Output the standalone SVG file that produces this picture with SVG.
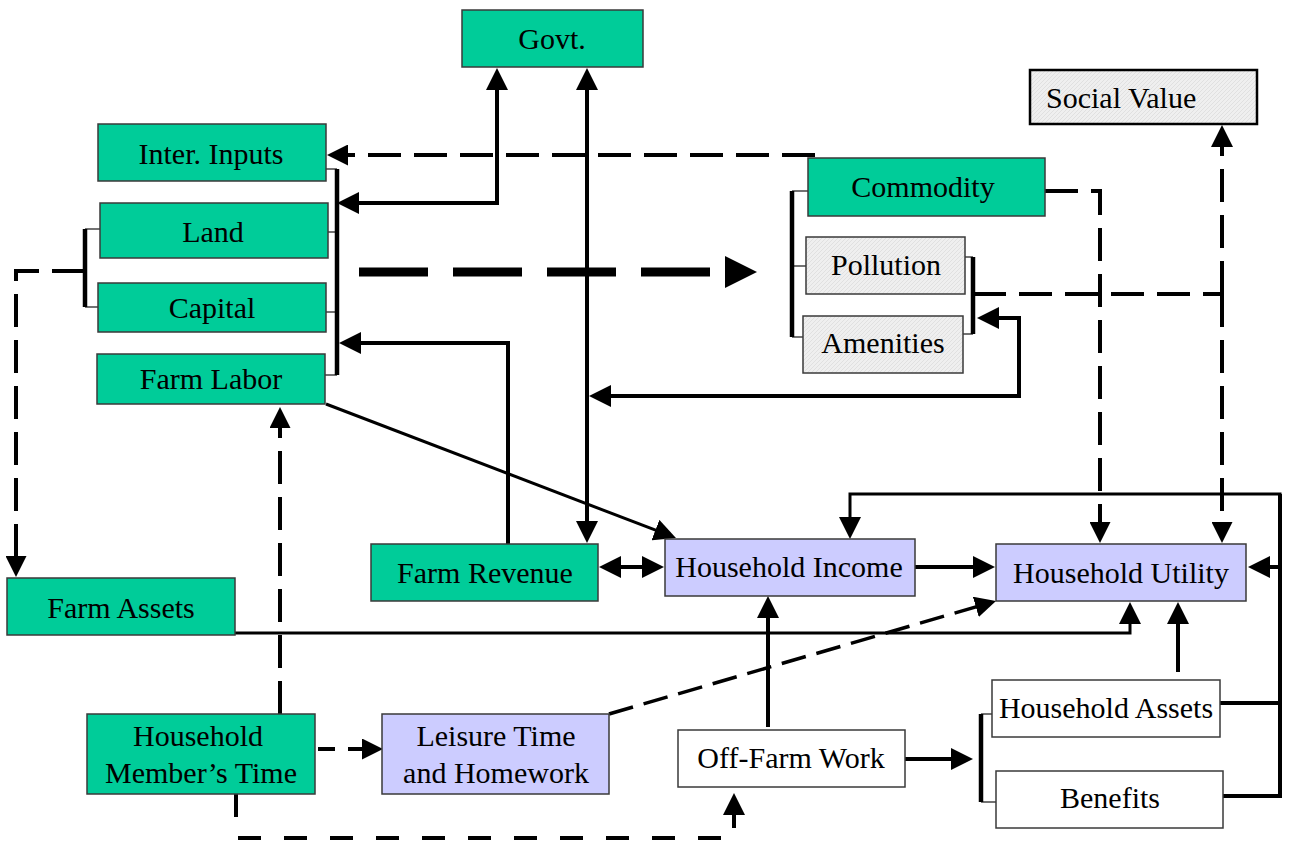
<svg xmlns="http://www.w3.org/2000/svg" width="1292" height="843" viewBox="0 0 1292 843">
<defs>
<pattern id="hatch" width="4" height="4" patternUnits="userSpaceOnUse">
<rect width="4" height="4" fill="#efefef"/>
<path d="M0,4 L4,0" stroke="#dcdcdc" stroke-width="0.8"/>
</pattern>
<marker id="ah" viewBox="0 0 22 22" refX="17" refY="11" markerWidth="22" markerHeight="22" markerUnits="userSpaceOnUse" orient="auto-start-reverse">
<path d="M0,0 L22,11 L0,22 z" fill="#000"/>
</marker>
<marker id="ahs" viewBox="0 0 21 21" refX="16" refY="10.5" markerWidth="21" markerHeight="21" markerUnits="userSpaceOnUse" orient="auto-start-reverse">
<path d="M0,0 L21,10.5 L0,21 z" fill="#000"/>
</marker>
</defs>
<style>
.box{stroke:#3a3a3a;stroke-width:1.5}
.g{fill:#00cc99}
.p{fill:#ccccff}
.w{fill:#ffffff}
.h{fill:url(#hatch)}
text{font-family:"Liberation Serif","Times New Roman",serif;font-size:30px;fill:#000;text-anchor:middle}
.s{fill:none;stroke:#000;stroke-width:4}
.t{fill:none;stroke:#000;stroke-width:3}
.d{fill:none;stroke:#000;stroke-width:4;stroke-dasharray:33 13}
.stub{fill:none;stroke:#444;stroke-width:1.5}
.br{fill:none;stroke:#000;stroke-width:4.5}
</style>
<rect width="1292" height="843" fill="#fff"/>

<g id="connectors">
<!-- brackets -->
<path class="stub" d="M326,169 H337 M328,232 H337 M326,312 H337 M325,375 H337"/>
<path class="br" d="M337,169 V375"/>
<path class="stub" d="M85,229 H100 M85,307 H98"/>
<path class="br" d="M85,229 V307"/>
<path class="stub" d="M792,191 H808 M792,266 H806 M792,337 H803"/>
<path class="br" d="M792,191 V337"/>
<path class="stub" d="M965,257 H973 M963,334 H973"/>
<path class="br" d="M973,257 V334"/>
<path class="stub" d="M981,714 H992 M981,802 H996"/>
<path class="br" d="M981,714 V802"/>

<!-- Commodity -> Inter. Inputs -->
<path class="d" d="M815,155 H332" marker-end="url(#ahs)"/>
<!-- Govt <-> inputs -->
<path class="s" d="M497,73 V203 H342" marker-start="url(#ah)" marker-end="url(#ah)"/>
<!-- Govt <-> Farm Revenue -->
<path class="s" d="M587,73 V538" marker-start="url(#ah)" marker-end="url(#ah)"/>
<!-- Amenities <-> Govt line -->
<path class="s" d="M982,318 H1019 V396 H594" marker-start="url(#ah)" marker-end="url(#ah)"/>
<!-- Farm Revenue -> inputs -->
<path class="s" d="M508,544 V343 H344" marker-end="url(#ah)"/>
<!-- big dashed arrow -->
<path fill="none" stroke="#000" stroke-width="9" stroke-dasharray="69 25" d="M359,272 H710"/>
<polygon points="725,256 757,272 725,288" fill="#000"/>
<!-- Farm Labor -> HH Income -->
<path class="t" d="M326,404 L671.3,536.2" marker-end="url(#ah)"/>
<!-- Farm Revenue <-> HH Income -->
<path class="s" d="M604,567 H659" marker-start="url(#ah)" marker-end="url(#ah)"/>
<!-- HH Income -> HH Utility -->
<path class="s" d="M915,567 H990" marker-end="url(#ah)"/>
<!-- Off-Farm -> HH Income -->
<path class="s" d="M768,727 V601" marker-end="url(#ah)"/>
<!-- Farm Assets -> HH Utility -->
<path class="t" d="M235,633 H1130 V607" marker-end="url(#ah)"/>
<!-- Leisure -> HH Utility -->
<path fill="none" stroke="#000" stroke-width="3.5" stroke-dasharray="25 11" d="M609,714 L991.2,602.4" marker-end="url(#ahs)"/>
<!-- HH Assets -> HH Utility -->
<path class="s" d="M1178,672 V607" marker-end="url(#ah)"/>
<!-- right loop -->
<path class="s" d="M1223,796 H1280 V494" />
<path class="t" d="M1281.5,494 H850 V534" marker-end="url(#ah)"/>
<path class="s" d="M1220,703 H1280"/>
<path class="s" d="M1280,567 H1253" marker-end="url(#ah)"/>
<!-- Off-Farm -> Assets/Benefits -->
<path class="s" d="M905,759 H968" marker-end="url(#ah)"/>
<!-- Pollution/Amenities -> Social Value / Utility -->
<path class="d" d="M973,294 H1222"/>
<path class="d" d="M1222,294 V130" marker-end="url(#ah)"/>
<path class="d" d="M1222,294 V538" marker-end="url(#ahs)"/>
<!-- Commodity -> HH Utility -->
<path class="d" d="M1045,191 H1100 V538" marker-end="url(#ahs)"/>
<!-- Land/Capital -> Farm Assets -->
<path class="d" d="M85,271 H16 V572" marker-end="url(#ahs)"/>
<!-- Member's Time -> Farm Labor -->
<path class="d" d="M280,714 V412" marker-end="url(#ahs)"/>
<!-- Member's Time -> Leisure -->
<path fill="none" stroke="#000" stroke-width="4" stroke-dasharray="17 13" d="M318,749 H378" marker-end="url(#ahs)"/>
<!-- Member's Time -> Off-Farm -->
<path fill="none" stroke="#000" stroke-width="4" stroke-dasharray="23 23" d="M236,794 V838 H734 V798" marker-end="url(#ah)"/>
</g>

<g id="govt"><rect class="box g" x="462" y="10" width="181" height="57"/><text x="552" y="49">Govt.</text></g>
<g id="inter-inputs"><rect class="box g" x="98" y="124" width="228" height="57"/><text x="211" y="164">Inter. Inputs</text></g>
<g id="land"><rect class="box g" x="100" y="203" width="228" height="55"/><text x="213" y="242">Land</text></g>
<g id="capital"><rect class="box g" x="98" y="283" width="228" height="49"/><text x="212" y="318">Capital</text></g>
<g id="farm-labor"><rect class="box g" x="97" y="354" width="228" height="50"/><text x="211" y="389">Farm Labor</text></g>
<g id="commodity"><rect class="box g" x="808" y="158" width="237" height="58"/><text x="923" y="197">Commodity</text></g>
<g id="pollution"><rect class="box h" x="806" y="237" width="159" height="57"/><text x="886" y="275">Pollution</text></g>
<g id="amenities"><rect class="box h" x="803" y="316" width="160" height="57"/><text x="883" y="353">Amenities</text></g>
<g id="social-value"><rect class="h" x="1030" y="70" width="227" height="54" stroke="#000" stroke-width="2.5"/><text x="1046" y="108" style="text-anchor:start">Social Value</text></g>
<g id="farm-assets"><rect class="box g" x="7" y="578" width="228" height="57"/><text x="121" y="618">Farm Assets</text></g>
<g id="farm-revenue"><rect class="box g" x="371" y="544" width="227" height="57"/><text x="485" y="583">Farm Revenue</text></g>
<g id="household-income"><rect class="box p" x="665" y="539" width="250" height="57"/><text x="789" y="577">Household Income</text></g>
<g id="household-utility"><rect class="box p" x="996" y="544" width="250" height="57"/><text x="1121" y="583">Household Utility</text></g>
<g id="member-time"><rect class="box g" x="87" y="714" width="228" height="80"/><text x="198" y="746">Household</text><text x="201" y="783">Member’s Time</text></g>
<g id="leisure"><rect class="box p" x="382" y="714" width="227" height="80"/><text x="496" y="746">Leisure Time</text><text x="496" y="783">and Homework</text></g>
<g id="off-farm"><rect class="box w" x="678" y="730" width="227" height="57"/><text x="791" y="768">Off-Farm Work</text></g>
<g id="household-assets"><rect class="box w" x="992" y="680" width="228" height="57"/><text x="1106" y="718">Household Assets</text></g>
<g id="benefits"><rect class="box w" x="996" y="771" width="227" height="57"/><text x="1110" y="808">Benefits</text></g>
</svg>
